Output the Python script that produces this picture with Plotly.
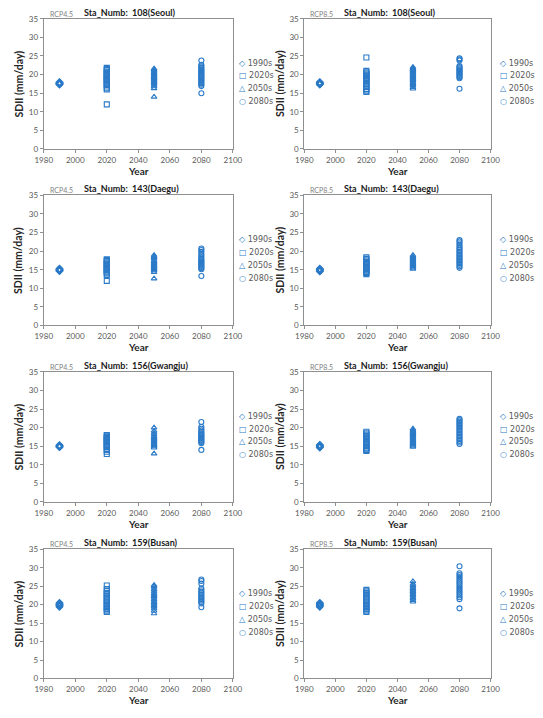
import plotly.graph_objects as go

# ---------------- data ----------------
decades = ["1990s", "2020s", "2050s", "2080s"]
decade_year = [1990, 2020, 2050, 2080]
symbols = ["diamond-open", "square-open", "triangle-up-open", "circle-open"]
legend_glyphs = ["◇", "□", "△", "○"]
stations = ["108(Seoul)", "143(Daegu)", "156(Gwangju)", "159(Busan)"]
scenarios = ["RCP4.5", "RCP8.5"]
x_ticks = [1980, 2000, 2020, 2040, 2060, 2080, 2100]
y_ticks = [0, 5, 10, 15, 20, 25, 30, 35]

# SDII values (mm/day): one list per decade [1990s, 2020s, 2050s, 2080s]
seoul_rcp45 = [
    [17.3, 17.4, 17.5, 17.5, 17.6, 17.6, 17.7, 17.8, 17.9, 18.0],
    [12.0, 16.0, 16.3, 16.8, 17.2, 17.5, 17.9, 18.2, 18.5, 18.8, 19.0, 19.3, 19.6, 19.9, 20.2, 20.5, 20.8, 21.2, 21.5, 21.8],
    [14.0, 16.3, 16.8, 17.2, 17.5, 17.8, 18.0, 18.3, 18.6, 18.9, 19.1, 19.4, 19.6, 19.9, 20.2, 20.4, 20.7, 21.0, 21.3, 21.6],
    [15.0, 16.9, 17.3, 17.7, 18.0, 18.4, 18.7, 19.0, 19.3, 19.6, 19.9, 20.2, 20.5, 20.8, 21.1, 21.4, 21.8, 22.2, 22.6, 23.8],
]
seoul_rcp85 = [
    [17.3, 17.4, 17.5, 17.5, 17.6, 17.6, 17.7, 17.8, 17.9, 18.0],
    [15.3, 15.7, 16.1, 16.6, 17.0, 17.4, 17.8, 18.2, 18.5, 18.8, 19.1, 19.4, 19.7, 20.0, 20.3, 20.6, 21.0, 24.6],
    [16.2, 16.6, 17.0, 17.3, 17.7, 18.0, 18.4, 18.7, 19.0, 19.3, 19.6, 19.9, 20.2, 20.5, 20.8, 21.1, 21.4, 21.7, 22.0],
    [16.2, 19.0, 19.3, 19.6, 19.9, 20.2, 20.5, 20.8, 21.1, 21.4, 21.7, 22.0, 22.3, 23.8, 24.1, 24.4],
]
daegu_rcp45 = [
    [14.6, 14.7, 14.8, 14.9, 14.9, 15.0, 15.1, 15.2, 15.3],
    [12.0, 13.6, 14.0, 14.3, 14.6, 14.9, 15.2, 15.5, 15.8, 16.1, 16.4, 16.7, 17.0, 17.3, 17.6, 17.8],
    [12.6, 14.3, 14.7, 15.0, 15.3, 15.6, 15.9, 16.2, 16.5, 16.8, 17.1, 17.5, 18.0, 18.3, 18.6, 18.9],
    [13.3, 15.1, 15.4, 15.7, 16.0, 16.3, 16.6, 16.9, 17.2, 17.5, 17.9, 18.3, 18.8, 19.3, 19.8, 20.3, 20.7],
]
daegu_rcp85 = [
    [14.5, 14.6, 14.7, 14.8, 14.9, 15.0, 15.1, 15.2, 15.3],
    [13.8, 14.1, 14.4, 14.7, 15.0, 15.3, 15.6, 15.9, 16.2, 16.5, 16.8, 17.1, 17.5, 17.9, 18.3],
    [15.2, 15.5, 15.8, 16.1, 16.4, 16.7, 17.0, 17.3, 17.6, 17.9, 18.2, 18.5, 18.9],
    [15.5, 15.9, 16.3, 16.7, 17.1, 17.5, 17.9, 18.3, 18.7, 19.1, 19.5, 19.9, 20.3, 20.7, 21.1, 21.6, 22.1, 22.6, 23.0],
]
gwangju_rcp45 = [
    [14.7, 14.8, 14.9, 15.0, 15.0, 15.1, 15.2, 15.3],
    [12.9, 13.5, 14.0, 14.4, 14.8, 15.1, 15.4, 15.7, 16.0, 16.3, 16.6, 16.9, 17.2, 17.5, 17.8, 18.0],
    [13.0, 14.6, 14.9, 15.2, 15.5, 15.8, 16.1, 16.4, 16.7, 17.0, 17.3, 17.7, 18.2, 18.6, 19.1, 20.0],
    [14.0, 15.8, 16.1, 16.4, 16.7, 17.0, 17.3, 17.6, 17.9, 18.2, 18.5, 18.9, 19.3, 19.7, 20.2, 21.5],
]
gwangju_rcp85 = [
    [14.6, 14.7, 14.8, 14.9, 15.0, 15.1, 15.2, 15.3, 15.4],
    [13.7, 14.0, 14.3, 14.6, 14.9, 15.2, 15.5, 15.8, 16.1, 16.5, 16.9, 17.3, 17.7, 18.1, 18.5, 18.9],
    [14.8, 15.1, 15.4, 15.7, 16.0, 16.3, 16.6, 16.9, 17.2, 17.5, 17.8, 18.1, 18.4, 18.7, 19.0, 19.3, 19.7],
    [15.6, 16.0, 16.4, 16.8, 17.2, 17.6, 18.0, 18.4, 18.8, 19.2, 19.6, 20.0, 20.4, 20.8, 21.2, 21.6, 22.0, 22.4],
]
busan_rcp45 = [
    [19.4, 19.6, 19.7, 19.8, 19.9, 20.0, 20.1, 20.2, 20.4, 20.5],
    [18.0, 18.4, 18.8, 19.2, 19.6, 20.0, 20.4, 20.8, 21.2, 21.6, 22.0, 22.4, 22.8, 23.2, 23.7, 24.2, 25.2],
    [17.6, 18.3, 18.9, 19.4, 19.8, 20.2, 20.6, 21.0, 21.4, 21.8, 22.2, 22.6, 23.0, 23.5, 24.0, 24.5, 25.0, 25.3],
    [19.3, 20.3, 20.7, 21.1, 21.5, 21.9, 22.3, 22.7, 23.1, 23.5, 23.9, 24.4, 25.7, 26.4, 26.8],
]
busan_rcp85 = [
    [19.4, 19.6, 19.7, 19.8, 19.9, 20.0, 20.1, 20.2, 20.4, 20.5],
    [18.0, 18.4, 18.8, 19.2, 19.6, 20.0, 20.4, 20.8, 21.2, 21.6, 22.0, 22.4, 22.8, 23.2, 23.6, 24.0],
    [20.8, 21.2, 21.6, 22.0, 22.4, 22.8, 23.2, 23.6, 24.0, 24.4, 24.8, 25.2, 25.6, 26.3],
    [19.0, 21.5, 22.0, 22.5, 23.0, 23.5, 24.0, 24.5, 25.0, 25.5, 26.0, 26.5, 27.0, 27.5, 28.0, 28.5, 30.4],
]

panels = [
    (seoul_rcp45, seoul_rcp85),
    (daegu_rcp45, daegu_rcp85),
    (gwangju_rcp45, gwangju_rcp85),
    (busan_rcp45, busan_rcp85),
]

# ---------------- layout geometry ----------------
W, H = 543, 718
col_px = [(36, 232), (306, 499)]
row_px = [(14, 146), (193, 325), (372, 504), (552, 683)]
title_left_px = [76, 345]
legend_left_px = [236, 507]     # left edge of legend glyph
legend_first_px = 45            # first legend row centre, px below plot top
legend_step_px = 13             # legend row spacing

COLOR = "#2A7AC8"
AXIS = "#8f8f8f"
FONT = "Lato, 'Open Sans', sans-serif"

fig = go.Figure()
layout = dict(
    width=W, height=H,
    margin=dict(l=0, r=0, t=0, b=0),
    paper_bgcolor="white", plot_bgcolor="white",
    font=dict(family=FONT, color="#404040"),
    showlegend=False,
    annotations=[],
)

idx = 0
for r, (row_top, row_bot) in enumerate(row_px):
    for c, (col_l, col_r) in enumerate(col_px):
        idx += 1
        sfx = "" if idx == 1 else str(idx)
        xa, ya = "x" + sfx, "y" + sfx
        series = panels[r][c]
        for d, name in enumerate(decades):
            vals = series[d]
            fig.add_trace(go.Scatter(
                x=[decade_year[d]] * len(vals), y=vals,
                mode="markers", name=name,
                marker=dict(symbol=symbols[d], size=5, color=COLOR,
                            line=dict(width=1.1, color=COLOR)),
                xaxis=xa, yaxis=ya,
            ))
        layout["xaxis" + sfx] = dict(
            domain=[col_l / W, col_r / W], anchor=ya,
            range=[1980, 2100], tickvals=x_ticks, ticks="outside", ticklen=3,
            tickcolor=AXIS, showline=True, linecolor=AXIS, linewidth=1, mirror=True,
            showgrid=False, zeroline=False,
            tickfont=dict(size=8, color="#595959"),
        )
        layout["yaxis" + sfx] = dict(
            domain=[1 - row_bot / H, 1 - row_top / H], anchor=xa,
            range=[0, 35], tickvals=y_ticks, ticks="outside", ticklen=3,
            tickcolor=AXIS, showline=True, linecolor=AXIS, linewidth=1, mirror=True,
            showgrid=False, zeroline=False,
            tickfont=dict(size=8, color="#595959"),
        )
        # axis titles
        ytitle_x = [10, 281][c]
        layout["annotations"].append(dict(
            xref="paper", yref="paper", x=ytitle_x / W, y=1 - (row_top + row_bot) / 2 / H,
            xanchor="center", yanchor="middle", textangle=-90, showarrow=False,
            text="<b>SDII (mm/day)</b>", font=dict(size=10.5, color="#262626"),
        ))
        layout["annotations"].append(dict(
            xref="paper", yref="paper", x=(col_l + col_r) / 2 / W, y=1 - (row_bot + 22) / H,
            xanchor="center", yanchor="middle", showarrow=False,
            text="<b>Year</b>", font=dict(size=10, color="#262626"),
        ))
        # titles
        layout["annotations"].append(dict(
            xref="paper", yref=ya + " domain", x=title_left_px[c] / W, y=1.0,
            xanchor="left", yanchor="bottom", yshift=-1, showarrow=False,
            text="<b>Sta_Numb:  " + stations[r] + "</b>",
            font=dict(size=9, color="#1a1a1a"),
        ))
        layout["annotations"].append(dict(
            xref=xa + " domain", yref=ya + " domain", x=0.02, y=1.0,
            xanchor="left", yanchor="bottom", yshift=-1, showarrow=False,
            text=scenarios[c], font=dict(size=7, color="#7f7f7f"),
        ))
        # legend
        for d, name in enumerate(decades):
            layout["annotations"].append(dict(
                xref="paper", yref="paper", x=legend_left_px[c] / W,
                y=1 - (row_top + legend_first_px + d * legend_step_px) / H,
                xanchor="left", yanchor="middle", showarrow=False,
                text=f"<span style='color:{COLOR}'>{legend_glyphs[d]}</span> {name}",
                font=dict(size=8, color="#595959", family="DejaVu Sans, sans-serif"),
            ))

fig.update_layout(**layout)
fig.write_html(
    "out.html",
    config={"displayModeBar": False},
    post_script="document.body.style.margin='0';document.body.style.overflow='hidden';",
)
